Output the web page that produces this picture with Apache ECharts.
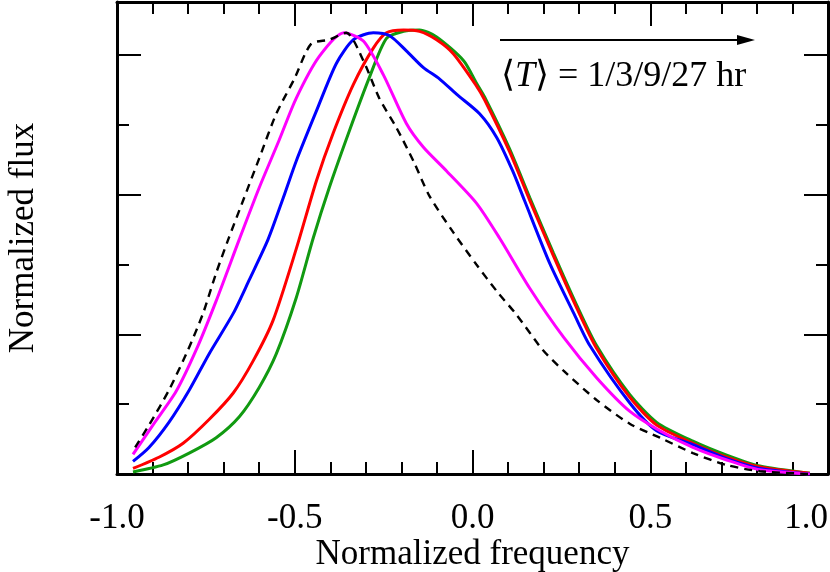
<!DOCTYPE html>
<html>
<head>
<meta charset="utf-8">
<script src="https://cdn.jsdelivr.net/npm/echarts@6/dist/echarts.min.js"></script>
<style>html,body{margin:0;padding:0;background:#fff;}#c{width:830px;height:572px;}</style>
</head>
<body>
<div id="c"></div>
<script>
// Normalized frequency / flux pairs
const dashedBlack = [[-0.949,0.19],[-0.91,0.35],[-0.854,0.60],[-0.80,0.89],[-0.758,1.15],[-0.721,1.44],[-0.687,1.68],[-0.645,1.96],[-0.60,2.26],[-0.552,2.58],[-0.501,2.83],[-0.454,3.08],[-0.403,3.11],[-0.355,3.16],[-0.307,2.96],[-0.262,2.69],[-0.214,2.48],[-0.166,2.24],[-0.121,1.99],[-0.054,1.73],[0.011,1.50],[0.068,1.31],[0.124,1.14],[0.197,0.89],[0.256,0.74],[0.349,0.53],[0.442,0.36],[0.527,0.26],[0.620,0.15],[0.715,0.064],[0.808,0.02],[0.949,0.0]];
const magentaCurve = [[-0.955,0.14],[-0.899,0.35],[-0.834,0.59],[-0.777,0.89],[-0.721,1.24],[-0.656,1.68],[-0.60,2.05],[-0.544,2.39],[-0.496,2.69],[-0.431,2.99],[-0.361,3.16],[-0.307,3.10],[-0.251,2.86],[-0.186,2.51],[-0.138,2.34],[-0.073,2.17],[0.011,1.94],[0.076,1.69],[0.161,1.33],[0.256,0.98],[0.349,0.69],[0.442,0.45],[0.527,0.31],[0.620,0.19],[0.715,0.10],[0.808,0.03],[0.949,0.0]];
const blueCurve = [[-0.955,0.09],[-0.91,0.19],[-0.854,0.37],[-0.797,0.60],[-0.741,0.86],[-0.673,1.15],[-0.628,1.39],[-0.575,1.68],[-0.532,1.98],[-0.496,2.24],[-0.439,2.60],[-0.383,2.94],[-0.335,3.11],[-0.279,3.16],[-0.234,3.14],[-0.186,3.03],[-0.138,2.91],[-0.093,2.83],[-0.045,2.72],[0.02,2.58],[0.068,2.41],[0.113,2.17],[0.146,1.96],[0.217,1.51],[0.285,1.15],[0.33,0.92],[0.442,0.51],[0.518,0.31],[0.620,0.21],[0.715,0.11],[0.808,0.04],[0.949,0.0]];
const redCurve = [[-0.955,0.04],[-0.882,0.12],[-0.814,0.22],[-0.741,0.39],[-0.673,0.58],[-0.617,0.81],[-0.561,1.10],[-0.496,1.61],[-0.439,2.10],[-0.392,2.44],[-0.335,2.79],[-0.279,3.05],[-0.242,3.16],[-0.194,3.18],[-0.149,3.17],[-0.101,3.11],[-0.054,3.01],[0.011,2.78],[0.034,2.68],[0.104,2.31],[0.161,1.96],[0.228,1.56],[0.293,1.19],[0.349,0.90],[0.442,0.55],[0.518,0.35],[0.620,0.22],[0.715,0.12],[0.808,0.05],[0.949,0.005]];
const greenCurve = [[-0.955,0.015],[-0.87,0.065],[-0.797,0.15],[-0.721,0.26],[-0.656,0.41],[-0.60,0.62],[-0.552,0.86],[-0.496,1.26],[-0.448,1.69],[-0.403,2.05],[-0.346,2.46],[-0.29,2.84],[-0.242,3.12],[-0.194,3.17],[-0.149,3.18],[-0.101,3.13],[-0.025,2.96],[0.011,2.80],[0.034,2.70],[0.104,2.33],[0.161,1.98],[0.228,1.58],[0.293,1.21],[0.349,0.92],[0.442,0.57],[0.518,0.37],[0.620,0.235],[0.715,0.135],[0.808,0.057],[0.949,0.005]];
const xTickLabels = ['-1.0','-0.5','0.0','0.5','1.0'];

const FONT = '"Liberation Serif", "Times New Roman", serif';
const chart = echarts.init(document.getElementById('c'), null, {renderer: 'canvas'});

function xAx(pos, show) {
  return {
    type: 'value', position: pos, min: -1, max: 1, interval: 0.5,
    axisLine: {show: true, onZero: false, lineStyle: {color: '#000', width: 3}},
    axisTick: {show: true, inside: true, length: 24, lineStyle: {color: '#000', width: 2}},
    minorTick: {show: true, splitNumber: 5, length: 12, lineStyle: {color: '#000', width: 2}},
    splitLine: {show: false}, minorSplitLine: {show: false},
    axisLabel: {show: show, margin: 27, fontFamily: FONT, fontSize: 35, color: '#000',
      alignMaxLabel: 'right',
      formatter: v => xTickLabels[Math.round((v + 1) / 0.5)]},
    name: show ? 'Normalized frequency' : '', nameLocation: 'middle', nameGap: 81,
    nameMoveOverlap: false,
    nameTextStyle: {fontFamily: FONT, fontSize: 35, color: '#000', verticalAlign: 'middle', lineHeight: 35, padding: 0}
  };
}
function yAx(pos, show) {
  return {
    type: 'value', position: pos, min: 0, max: 3.38, interval: 1,
    axisLine: {show: true, onZero: false, lineStyle: {color: '#000', width: 3}},
    axisTick: {show: true, inside: true, length: 24, lineStyle: {color: '#000', width: 2}},
    minorTick: {show: true, splitNumber: 2, length: 12, lineStyle: {color: '#000', width: 2}},
    splitLine: {show: false}, minorSplitLine: {show: false},
    axisLabel: {show: false},
    name: show ? 'Normalized flux' : '', nameLocation: 'middle', nameGap: 76,
    nameMoveOverlap: false,
    nameTextStyle: {fontFamily: FONT, fontSize: 35, color: '#000'}
  };
}
function ser(data, color, dashed) {
  return {
    type: 'line', data: data, smooth: 0.25, symbol: 'none', xAxisIndex: 0, yAxisIndex: 0,
    lineStyle: {color: color, width: dashed ? 2.4 : 3, type: dashed ? [8, 6] : 'solid'},
    z: dashed ? 10 : 5
  };
}

chart.setOption({
  animation: false,
  backgroundColor: '#fff',
  grid: {left: 117, right: 2, top: 2, bottom: 98, containLabel: false, outerBoundsMode: 'none'},
  xAxis: [xAx('bottom', true), xAx('top', false)],
  yAxis: [yAx('left', true), yAx('right', false)],
  series: [
    ser(greenCurve, '#119a11', false),
    ser(redCurve, '#ff0000', false),
    ser(blueCurve, '#0000ff', false),
    ser(magentaCurve, '#ff00ff', false),
    ser(dashedBlack, '#000000', true)
  ],
  graphic: [
    {type: 'line', shape: {x1: 500, y1: 40, x2: 742, y2: 40}, style: {stroke: '#000', lineWidth: 2}},
    {type: 'polygon', shape: {points: [[737, 35], [755, 40], [737, 45]]}, style: {fill: '#000'}},
    {type: 'text', x: 501, y: 77, style: {
      text: '{a|⟨}{b|T}{a|⟩ = 1/3/9/27 hr}',
      verticalAlign: 'middle', align: 'left',
      rich: {
        a: {fontFamily: FONT, fontSize: 36, fill: '#000'},
        b: {fontFamily: FONT, fontSize: 36, fontStyle: 'italic', fill: '#000'}
      }
    }}
  ]
});
</script>
</body>
</html>
